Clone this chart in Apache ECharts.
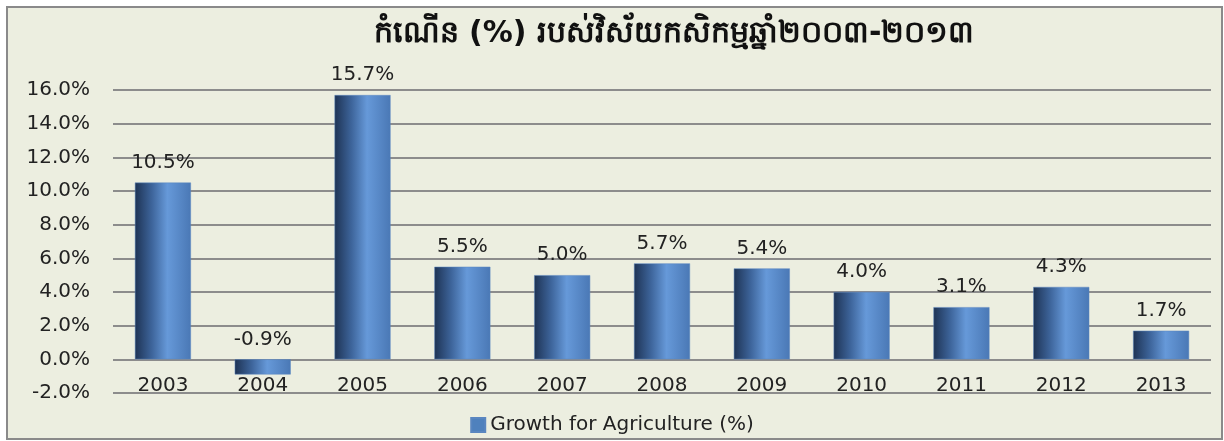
<!DOCTYPE html>
<html>
<head>
<meta charset="utf-8">
<script src="https://cdn.jsdelivr.net/npm/echarts@6/dist/echarts.min.js"></script>
<style>
html,body{margin:0;padding:0;background:#ffffff;}
#frame{position:absolute;left:6px;top:6px;width:1213px;height:430px;border:2px solid #8a8a8a;background:#ECEEE0;}
#chart{position:absolute;left:0;top:0;width:1224px;height:441px;}
</style>
</head>
<body>
<div id="frame"></div>
<div id="chart"></div>
<script>
const titleText = 'កំណើន (%) របស់វិស័យកសិកម្មឆ្នាំ២០០៣-២០១៣';
const seriesName = 'Growth for Agriculture (%)';
const years = ['2003','2004','2005','2006','2007','2008','2009','2010','2011','2012','2013'];
const growth = [10.5, -0.9, 15.7, 5.5, 5.0, 5.7, 5.4, 4.0, 3.1, 4.3, 1.7];

const chart = echarts.init(document.getElementById('chart'), null, {renderer:'canvas'});
const barGrad = new echarts.graphic.LinearGradient(0,0,1,0,[
  {offset:0, color:'#1E3354'},
  {offset:0.3, color:'#3D649A'},
  {offset:0.58, color:'#6699D9'},
  {offset:1, color:'#4A78B5'}
]);
chart.setOption({
  backgroundColor:'transparent',
  animation:false,
  textStyle:{fontFamily:'DejaVu Sans'},
  title:{
    text:titleText,
    left:669, top:14, textAlign:'center',
    textStyle:{fontSize:30, fontWeight:'bold', color:'#111'}
  },
  legend:{
    bottom:1, left:'center',
    itemWidth:14, itemHeight:14, itemGap:8,
    icon:'rect',
    textStyle:{fontSize:20, color:'#222', fontFamily:'DejaVu Sans'},
    data:[{name:seriesName, itemStyle:{color:'#4F81BD'}}]
  },
  grid:{left:113, right:13, top:90, bottom:48},
  xAxis:{
    type:'category', data:years,
    axisLine:{show:false},
    axisTick:{show:false},
    axisLabel:{fontSize:20, color:'#222', margin:-17, fontFamily:'DejaVu Sans'}
  },
  yAxis:{
    type:'value', min:-2, max:16, interval:2,
    axisLine:{show:false}, axisTick:{show:false},
    splitLine:{lineStyle:{color:'#8c8c8c', width:2}},
    axisLabel:{fontSize:20, color:'#222', margin:23, formatter:v=>v.toFixed(1)+'%', fontFamily:'DejaVu Sans'}
  },
  series:[{
    name:seriesName, type:'bar', data:growth, barWidth:56,
    itemStyle:{color:barGrad, borderColor:'#5a86c0', borderWidth:0.5},
    label:{show:true, position:'top', distance:10, fontSize:20, color:'#222', fontFamily:'DejaVu Sans',
      formatter:p=>p.value.toFixed(1)+'%'}
  }]
});
</script>
</body>
</html>
